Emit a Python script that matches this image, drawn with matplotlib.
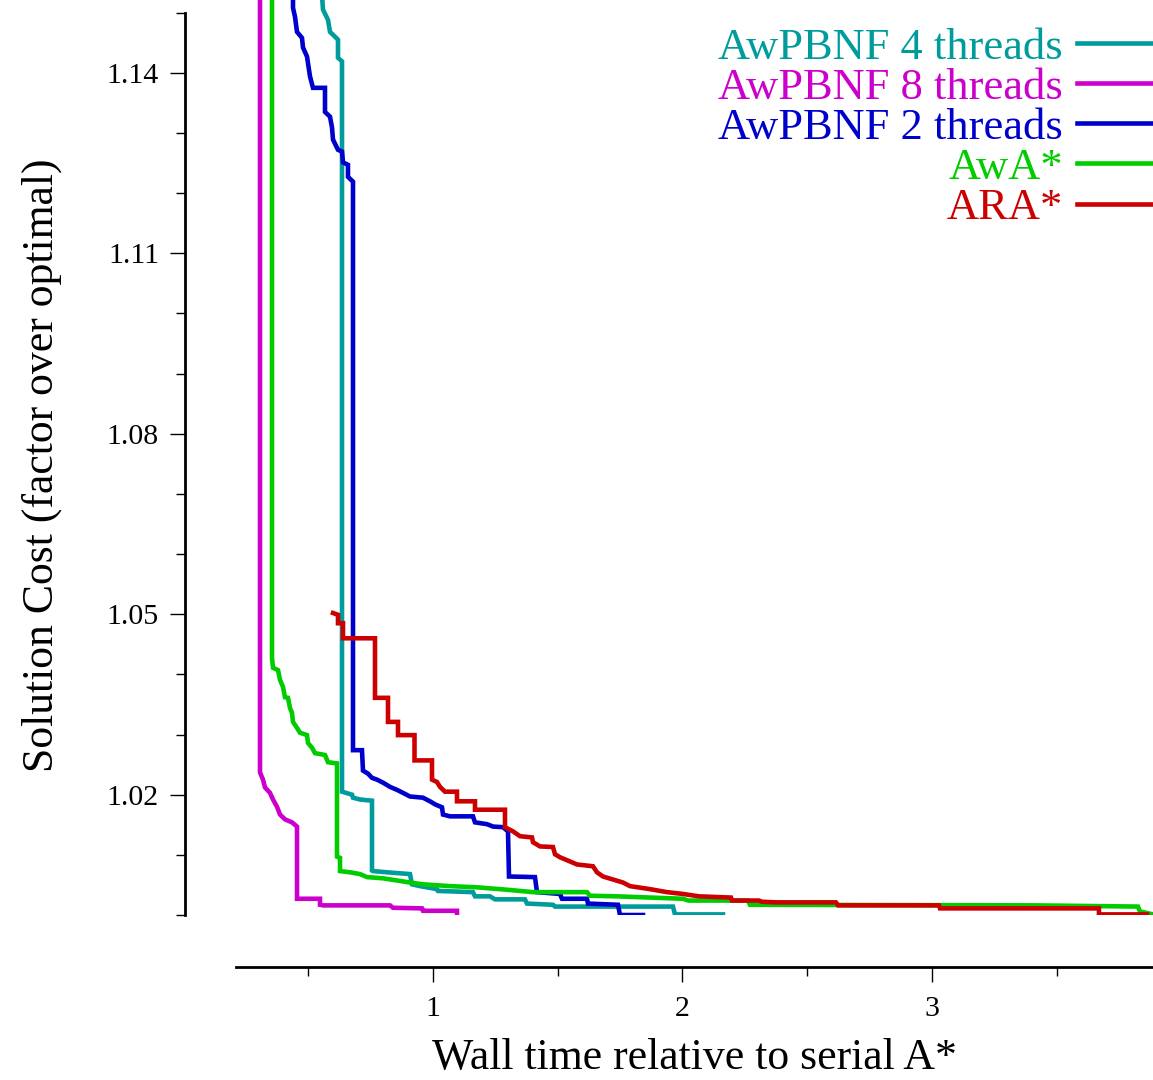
import matplotlib
matplotlib.use("Agg")
import matplotlib.pyplot as plt
from matplotlib.ticker import FixedLocator

plt.rcParams['font.family'] = ['Liberation Serif', 'DejaVu Serif']

# ---- data ----
t4_x = [0.5551, 0.5591, 0.5792, 0.5872, 0.6072, 0.6192, 0.6192, 0.6353, 0.6353, 0.6754, 0.6794, 0.7074,
        0.7555, 0.7555, 0.7595, 0.8156, 0.9078, 0.9158, 0.9479, 1.0160, 1.0200, 1.1603, 1.1683, 1.2285,
        1.2485, 1.3687, 1.3768, 1.4810, 1.4890, 1.9619, 1.9699, 2.1623]
t4_y = [1.1528, 1.1505, 1.1488, 1.1468, 1.1460, 1.1455, 1.1425, 1.1419, 1.0205, 1.0200, 1.0195, 1.0192,
        1.0190, 1.0074, 1.0073, 1.0071, 1.0068, 1.0051, 1.0048, 1.0043, 1.0040, 1.0038, 1.0031, 1.0031,
        1.0026, 1.0026, 1.0019, 1.0017, 1.0014, 1.0014, 1.0001, 1.0001]

t8_x = [0.3066, 0.3066, 0.3186, 0.3267, 0.3467, 0.3587, 0.3747, 0.3868, 0.4068, 0.4349, 0.4549, 0.4549,
        0.5471, 0.5471, 0.5591, 0.8277, 0.8397, 0.9559, 0.9599, 1.0962, 1.0962]
t8_y = [1.1600, 1.0237, 1.0225, 1.0212, 1.0203, 1.0192, 1.0180, 1.0167, 1.0159, 1.0154, 1.0147, 1.0027,
        1.0027, 1.0017, 1.0016, 1.0016, 1.0012, 1.0011, 1.0007, 1.0007, 1.0003]

t2_x = [0.4389, 0.4389, 0.4469, 0.4549, 0.4749, 0.4790, 0.4950, 0.5070, 0.5190, 0.5671, 0.5671, 0.5872,
        0.5952, 0.5992, 0.6192, 0.6353, 0.6393, 0.6593, 0.6593, 0.6794, 0.6794, 0.7154, 0.7194, 0.7395,
        0.7555, 0.7756, 0.7996, 0.8277, 0.8557, 0.8798, 0.9078, 0.9599, 0.9880, 1.0080, 1.0361, 1.0401,
        1.0681, 1.1603, 1.1683, 1.2164, 1.2405, 1.2806, 1.3006, 1.3046, 1.4088, 1.4168, 1.5090, 1.5170,
        1.6172, 1.6212, 1.7415, 1.7495, 1.8417]
t2_y = [1.1600, 1.1508, 1.1493, 1.1468, 1.1458, 1.1442, 1.1427, 1.1394, 1.1375, 1.1375, 1.1335, 1.1327,
        1.1309, 1.1289, 1.1272, 1.1269, 1.1251, 1.1247, 1.1227, 1.1219, 1.0274, 1.0274, 1.0240, 1.0235,
        1.0228, 1.0225, 1.0220, 1.0213, 1.0208, 1.0203, 1.0197, 1.0195, 1.0189, 1.0184, 1.0179, 1.0167,
        1.0164, 1.0164, 1.0154, 1.0151, 1.0147, 1.0146, 1.0139, 1.0064, 1.0063, 1.0038, 1.0035, 1.0027,
        1.0027, 1.0019, 1.0017, 1.0000, 1.0000]

awa_x = [0.3547, 0.3547, 0.3587, 0.3788, 0.3868, 0.3988, 0.4068, 0.4188, 0.4269, 0.4349, 0.4389, 0.4549,
         0.4669, 0.4950, 0.4990, 0.5150, 0.5271, 0.5671, 0.5792, 0.6152, 0.6152, 0.6273, 0.6273, 0.6673,
         0.7074, 0.7355, 0.7996, 0.9078, 0.9599, 1.0681, 1.1764, 1.2966, 1.4008, 1.6172, 1.6293, 1.7375,
         2.0020, 2.0240, 2.2625, 2.2705, 3.4128, 3.8257, 3.8337, 3.8858]
awa_y = [1.1600, 1.0427, 1.0411, 1.0407, 1.0391, 1.0379, 1.0362, 1.0361, 1.0344, 1.0336, 1.0321, 1.0311,
         1.0303, 1.0299, 1.0286, 1.0278, 1.0269, 1.0266, 1.0254, 1.0252, 1.0097, 1.0095, 1.0073, 1.0071,
         1.0068, 1.0063, 1.0061, 1.0054, 1.0051, 1.0048, 1.0046, 1.0042, 1.0038, 1.0038, 1.0032, 1.0031,
         1.0027, 1.0024, 1.0024, 1.0017, 1.0016, 1.0014, 1.0006, 1.0001]

ara_x = [0.5992, 0.6192, 0.6192, 0.6393, 0.6393, 0.7675, 0.7675, 0.8196, 0.8196, 0.8597, 0.8597, 0.9259,
         0.9259, 0.9960, 0.9960, 1.0160, 1.0281, 1.0481, 1.0962, 1.0962, 1.1683, 1.1683, 1.2886, 1.2886,
         1.3206, 1.3487, 1.3968, 1.4008, 1.4289, 1.4810, 1.4890, 1.5090, 1.5491, 1.5772, 1.6413, 1.6573,
         1.6814, 1.7214, 1.7615, 1.7896, 1.8697, 1.9379, 2.0020, 2.0661, 2.1944, 2.1984, 2.3066, 2.3186,
         2.3747, 2.6152, 2.6232, 3.0281, 3.0321, 3.6693, 3.6693, 3.8617]
ara_y = [1.0502, 1.0499, 1.0485, 1.0485, 1.0460, 1.0460, 1.0361, 1.0361, 1.0321, 1.0321, 1.0299, 1.0299,
         1.0257, 1.0257, 1.0225, 1.0221, 1.0213, 1.0205, 1.0205, 1.0189, 1.0189, 1.0175, 1.0175, 1.0146,
         1.0139, 1.0131, 1.0129, 1.0121, 1.0114, 1.0113, 1.0101, 1.0096, 1.0089, 1.0084, 1.0081, 1.0071,
         1.0064, 1.0059, 1.0054, 1.0048, 1.0043, 1.0038, 1.0035, 1.0031, 1.0029, 1.0024, 1.0024, 1.0022,
         1.0021, 1.0021, 1.0016, 1.0016, 1.0011, 1.0011, 1.0001, 1.0001]

labels = ["AwPBNF 4 threads", "AwPBNF 8 threads", "AwPBNF 2 threads", "AwA*", "ARA*"]
xs_all = [t4_x, t8_x, t2_x, awa_x, ara_x]
ys_all = [t4_y, t8_y, t2_y, awa_y, ara_y]
colors = ["#009c9c", "#cc00cc", "#0000cc", "#00cc00", "#cc0000"]

y_major = [1.02, 1.05, 1.08, 1.11, 1.14]
y_minor = [1.00, 1.01, 1.03, 1.04, 1.06, 1.07, 1.09, 1.10, 1.12, 1.13, 1.15]
x_major = [1, 2, 3]
x_minor = [0.5, 1.5, 2.5, 3.5]

W, H = 1153, 1080
fig = plt.figure(figsize=(W / 100, H / 100), dpi=100)
ax = fig.add_axes([236 / W, (H - 915) / H, (1153 - 236) / W, 915 / H])

for label, xs, ys, c in zip(labels, xs_all, ys_all, colors):
    ax.plot(xs, ys, color=c, lw=3.3, label=label, solid_joinstyle='miter')

ax.set_xlim(0.2104, 3.886)
ax.set_ylim(1.0, 1.1521)

for s in ['top', 'right']:
    ax.spines[s].set_visible(False)
ax.spines['left'].set_position(('outward', 36.7))
ax.spines['bottom'].set_position(('outward', 37.4))
ax.spines['left'].set_bounds(1.0, 1.15)
for s in ['left', 'bottom']:
    ax.spines[s].set_linewidth(2.0)

ax.yaxis.set_major_locator(FixedLocator(y_major))
ax.yaxis.set_minor_locator(FixedLocator(y_minor))
ax.xaxis.set_major_locator(FixedLocator(x_major))
ax.xaxis.set_minor_locator(FixedLocator(x_minor))
ax.set_yticklabels([f"{v:.2f}" for v in y_major])
ax.set_xticklabels([str(v) for v in x_major])
ax.tick_params(which='major', length=10.8, width=1.0, labelsize=21.5)
ax.tick_params(axis='y', which='major', pad=8)
ax.tick_params(axis='x', which='major', pad=10)
ax.tick_params(which='minor', length=6.5, width=1.0)

ax.set_xlabel("Wall time relative to serial A*", fontsize=31.5, labelpad=12)
ax.set_ylabel("Solution Cost (factor over optimal)", fontsize=31.5, labelpad=32)
ax.yaxis.label.set_y((915 - 465) / 915)

leg = ax.legend(loc='upper right', bbox_to_anchor=(1.0, (H - 27.5) / H), bbox_transform=fig.transFigure,
                frameon=False, markerfirst=False,
                fontsize=32, handlelength=1.71, handletextpad=0.32, labelspacing=0.0,
                borderaxespad=0.0, borderpad=0.0, labelcolor='linecolor')
for h in leg.get_lines():
    h.set_linewidth(3.3)

fig.savefig("out.png", dpi=100)
